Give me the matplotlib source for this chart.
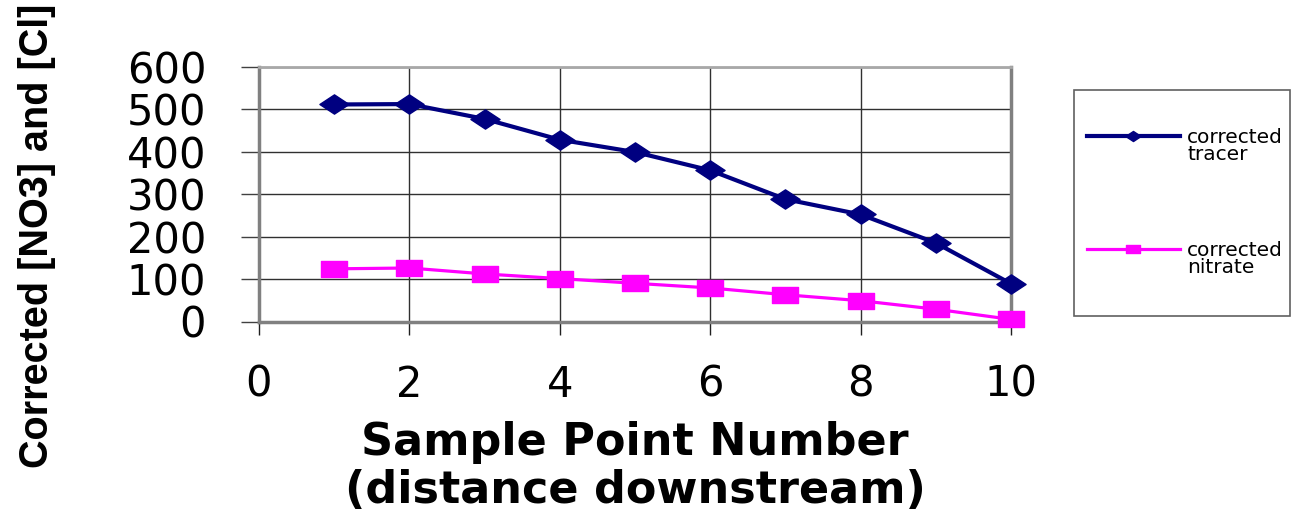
import matplotlib
matplotlib.use("Agg")
import matplotlib.pyplot as plt
from matplotlib.patches import Rectangle
from matplotlib.lines import Line2D
from matplotlib.path import Path

# Sample point numbers along the stream
sample_points = [1, 2, 3, 4, 5, 6, 7, 8, 9, 10]
# Corrected chloride tracer concentration
tracer = [511, 512, 477, 428, 399, 356, 288, 252, 185, 89]
# Corrected nitrate concentration
nitrate = [124, 126, 112, 101, 90, 79, 63, 49, 29, 5]

series_labels = ["corrected\ntracer", "corrected\nnitrate"]
x_ticks = [0, 2, 4, 6, 8, 10]
y_ticks = [0, 100, 200, 300, 400, 500, 600]

W, H = 1297, 521
NAVY = "#000080"
MAGENTA = "#FF00FF"

# Flattened diamond and flattened square markers
diamond = Path([(-1, 0), (0, 0.66), (1, 0), (0, -0.66), (-1, 0)],
               [Path.MOVETO, Path.LINETO, Path.LINETO, Path.LINETO, Path.CLOSEPOLY])
flat_square = Path([(-1, -0.63), (1, -0.63), (1, 0.63), (-1, 0.63), (-1, -0.63)],
                   [Path.MOVETO, Path.LINETO, Path.LINETO, Path.LINETO, Path.CLOSEPOLY])

fig = plt.figure(figsize=(W / 100, H / 100), dpi=100)
ax = fig.add_axes([259 / W, 1 - 321.5 / H, (1011 - 259) / W, (321.5 - 66.7) / H])

ax.plot(sample_points, tracer, color=NAVY, lw=3.0, marker=diamond,
        markersize=21, markerfacecolor=NAVY, markeredgecolor=NAVY,
        clip_on=False, zorder=4)
ax.plot(sample_points, nitrate, color=MAGENTA, lw=2.3, marker=flat_square,
        markersize=19, markerfacecolor=MAGENTA, markeredgecolor=MAGENTA,
        clip_on=False, zorder=4)

ax.set_xlim(0, 10)
ax.set_ylim(0, 600)
ax.set_xticks(x_ticks)
ax.set_yticks(y_ticks)
ax.grid(True, color="#303030", lw=1.0)
ax.set_axisbelow(True)

for side in ["left", "bottom", "right", "top"]:
    ax.spines[side].set_color("#808080")
    ax.spines[side].set_linewidth(2.5)
ax.spines["top"].set_color("#a8a8a8")
ax.spines["top"].set_linewidth(2.0)

ax.tick_params(axis="y", direction="out", length=13, width=1, color="#404040",
               pad=25, labelsize=30)
ax.tick_params(axis="x", direction="out", length=9.5, width=1, color="#202020",
               pad=21, labelsize=30)
for lab in ax.get_xticklabels() + ax.get_yticklabels():
    lab.set_family("DejaVu Sans")

ax.set_xlabel("Sample Point Number\n(distance downstream)", fontsize=32,
              fontweight="bold", family="DejaVu Sans", linespacing=1.12)
ax.xaxis.set_label_coords(0.5, -0.569)
ax.xaxis.label.set_verticalalignment("center")

fig.text(37 / W, 1 - 236 / H, "Corrected [NO3] and [Cl]", rotation=90,
         ha="center", va="center", fontsize=28.5, fontweight="bold",
         family="Liberation Sans")

# Legend box drawn in figure pixel positions
fig.add_artist(Rectangle((1074 / W, 1 - 316 / H), (1290 - 1074) / W, (316 - 90) / H,
                         transform=fig.transFigure, facecolor="white",
                         edgecolor="#606060", lw=1.2))
entries = [(136, NAVY, 3.0, diamond, 11, series_labels[0]),
           (249, MAGENTA, 2.3, flat_square, 10, series_labels[1])]
for ypx, col, lw, mk, ms, lab in entries:
    fig.add_artist(Line2D([1087 / W, 1133 / W, 1180 / W], [1 - ypx / H] * 3,
                          transform=fig.transFigure, color=col, lw=lw,
                          marker=mk, markersize=ms, markevery=[1],
                          markerfacecolor=col, markeredgecolor=col))
    fig.text(1187 / W, 1 - (ypx + 10) / H, lab, ha="left", va="center",
             fontsize=14.5, family="DejaVu Sans", linespacing=0.85)

fig.savefig("out.png", dpi=100)
